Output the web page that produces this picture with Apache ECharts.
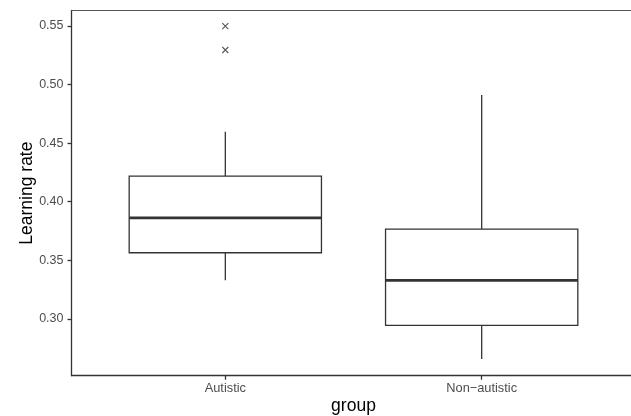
<!DOCTYPE html>
<html>
<head>
<meta charset="utf-8">
<script src="https://cdn.jsdelivr.net/npm/echarts@6/dist/echarts.min.js"></script>
<style>
html,body{margin:0;padding:0;background:#fff;}
#chart{width:631px;height:416px;}
</style>
</head>
<body>
<div id="chart"></div>
<script>
const categories = ['Autistic', 'Non\u2212autistic'];
const lowWhisker = [0.333, 0.266];
const q1 = [0.3565, 0.2946];
const median = [0.3863, 0.3330];
const q3 = [0.4219, 0.3767];
const highWhisker = [0.4597, 0.4909];
const outlierGroup = ['Autistic', 'Autistic'];
const outlierValues = [0.5497, 0.5293];
const yTicks = [0.30, 0.35, 0.40, 0.45, 0.50, 0.55];

const boxData = categories.map((c, i) => [i + 1, lowWhisker[i], q1[i], median[i], q3[i], highWhisker[i]]);
const outlierData = outlierGroup.map((g, i) => [categories.indexOf(g) + 1, outlierValues[i]]);

const stroke = '#333333';
function renderItem(params, api) {
  const xi = api.value(0);
  const lo = api.value(1), a = api.value(2), m = api.value(3), b = api.value(4), hi = api.value(5);
  const half = 0.375;
  const tl = api.coord([xi - half, b]);
  const br = api.coord([xi + half, a]);
  const c = v => api.coord([xi, v]);
  const mL = api.coord([xi - half, m]);
  const mR = api.coord([xi + half, m]);
  const ls = {stroke: stroke, lineWidth: 1.3};
  return {
    type: 'group',
    children: [
      {type: 'line', shape: {x1: c(hi)[0], y1: c(hi)[1], x2: c(b)[0], y2: c(b)[1]}, style: ls},
      {type: 'line', shape: {x1: c(a)[0], y1: c(a)[1], x2: c(lo)[0], y2: c(lo)[1]}, style: ls},
      {type: 'rect', shape: {x: tl[0], y: tl[1], width: br[0] - tl[0], height: br[1] - tl[1]}, style: {fill: '#fff', stroke: stroke, lineWidth: 1.3}},
      {type: 'line', shape: {x1: mL[0], y1: mL[1], x2: mR[0], y2: mR[1]}, style: {stroke: stroke, lineWidth: 2.7}}
    ]
  };
}

const chart = echarts.init(document.getElementById('chart'), null, {renderer: 'canvas'});
const axisLineStyle = {color: '#333', width: 1.3};
chart.setOption({
  backgroundColor: '#fff',
  animation: false,
  grid: {left: 71.5, top: 10.5, width: 564, height: 365.2, outerBoundsMode: 'none', containLabel: false},
  xAxis: [
    {
      type: 'value', min: 0.4, max: 2.6, position: 'bottom',
      axisLine: {show: true, onZero: false, lineStyle: axisLineStyle},
      splitLine: {show: false},
      axisTick: {show: true, customValues: [1, 2], length: 4, lineStyle: axisLineStyle},
      axisLabel: {customValues: [1, 2], formatter: v => categories[Math.round(v) - 1], color: '#4d4d4d', fontSize: 12.8, margin: 6, fontFamily: 'Liberation Sans'},
      name: 'group', nameLocation: 'middle', nameGap: 21, nameMoveOverlap: false,
      nameTextStyle: {color: '#000', fontSize: 17.5, fontFamily: 'Liberation Sans'}
    },
    {
      type: 'value', min: 0.4, max: 2.6, position: 'top',
      axisLine: {show: true, onZero: false, lineStyle: {color: '#555', width: 1.1}},
      splitLine: {show: false}, axisTick: {show: false}, axisLabel: {show: false}
    }
  ],
  yAxis: {
    type: 'value', min: 0.2517, max: 0.563,
    axisLine: {show: true, onZero: false, lineStyle: axisLineStyle},
    splitLine: {show: false},
    axisTick: {show: true, customValues: yTicks, length: 4, lineStyle: axisLineStyle},
    axisLabel: {customValues: yTicks, formatter: v => v.toFixed(2), color: '#4d4d4d', fontSize: 12.5, margin: 8, fontFamily: 'Liberation Sans'},
    name: 'Learning rate', nameLocation: 'middle', nameGap: 35, nameRotate: 90, nameMoveOverlap: false,
    nameTextStyle: {color: '#000', fontSize: 17.5, fontFamily: 'Liberation Sans'}
  },
  series: [
    {
      type: 'custom', renderItem: renderItem, data: boxData,
      encode: {x: 0, y: [1, 2, 3, 4, 5]}, xAxisIndex: 0
    },
    {
      type: 'scatter', data: outlierData, xAxisIndex: 0,
      symbol: 'path://M0,0L10,10M10,0L0,10', symbolSize: 6,
      itemStyle: {color: 'rgba(0,0,0,0)', borderColor: '#333', borderWidth: 1.2}
    }
  ]
});
</script>
</body>
</html>
